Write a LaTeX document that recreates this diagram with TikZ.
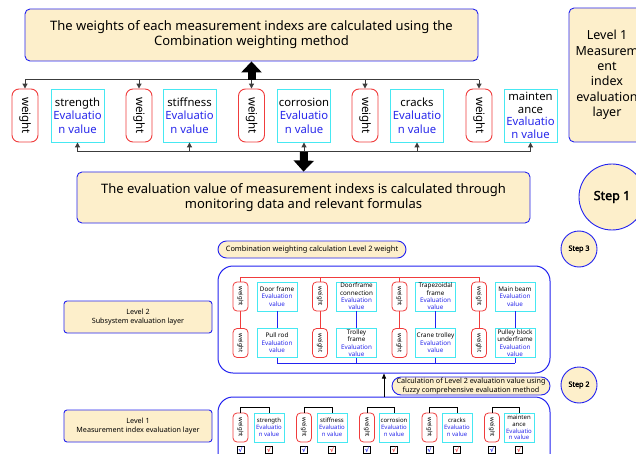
\documentclass[tikz,border=0pt]{standalone}
\usepackage{fontspec}
\setmainfont{Noto Sans}[AutoFakeBold=2.2]
\newfontfamily\djv{DejaVu Sans}
\usetikzlibrary{arrows.meta}
\definecolor{fillc}{RGB}{253,239,203}
\definecolor{bordb}{RGB}{35,35,240}
\definecolor{redc}{RGB}{240,60,60}
\definecolor{cyanc}{RGB}{70,232,242}
\definecolor{bluet}{RGB}{40,40,235}
\definecolor{linec}{RGB}{60,60,60}
\newcommand\bt[1]{\textcolor{bluet}{#1}}
\newcommand\fs[2]{\fontsize{#1}{#2}\selectfont}
\begin{document}
\begin{tikzpicture}[x=1pt,y=-1pt,
  yel/.style={draw=bordb, fill=fillc, line width=0.9pt, rounded corners=5pt, inner sep=0pt, align=center},
  circ/.style={circle, draw=bordb, fill=fillc, line width=0.9pt, inner sep=0pt},
  bigbox/.style={draw=bordb, line width=1pt, rounded corners=15pt, inner sep=0pt},
  wA/.style={draw=redc, line width=0.9pt, rounded corners=7pt, minimum width=26pt, minimum height=53pt, inner sep=0pt, font=\fs{11.5}{13}},
  eA/.style={draw=cyanc, line width=0.9pt, minimum width=53pt, minimum height=53pt, inner sep=0pt, align=center, font=\fs{11.3}{13.4}},
  wB/.style={draw=redc, line width=0.8pt, rounded corners=4pt, minimum width=15pt, minimum height=29pt, inner sep=0pt, font=\fs{6}{7}},
  eB/.style={draw=cyanc, line width=0.8pt, minimum width=40pt, minimum height=29pt, inner sep=0pt, align=center, font=\fs{6.3}{7.4}},
  eC/.style={draw=cyanc, line width=0.8pt, minimum width=30pt, minimum height=29pt, inner sep=0pt, align=center, font=\fs{6}{7.2}},
  chk/.style={draw=black, line width=0.6pt, minimum size=7pt, inner sep=0pt, font=\djv\bfseries\fs{6.5}{6.5}},
  conn/.style={draw=linec, line width=1pt},
  carr/.style={conn, -{Triangle[length=5pt,width=5pt]}},
  bigarr/.style={draw=black, line width=8pt, -{Triangle[length=11pt,width=20pt]}},
  redl/.style={draw=redc, line width=0.9pt},
  bluel/.style={draw=bordb, line width=0.9pt},
  blkl/.style={draw=black, line width=0.8pt}
]
\useasboundingbox (0,0) rectangle (636,454);
\clip (0,0) rectangle (636,454);
\fill[white] (0,0) rectangle (636,454);

% ---------- upper part ----------
\node[yel, minimum width=453pt, minimum height=52pt, font=\fs{13}{15}] (top) at (251.5,35)
  {The weights of each measurement indexs are calculated using the\\Combination weighting method};
\node[yel, minimum width=453pt, minimum height=51pt, font=\fs{13}{15}] (bot) at (303.5,197.5)
  {The evaluation value of measurement indexs is calculated through\\monitoring data and relevant formulas};
\node[yel, minimum width=76pt, minimum height=134pt, font=\fs{12.5}{15.4}] (lvl1r) at (607,75)
  {Level 1\\Measurem\\ent\\index\\evaluation\\layer};
\node[circ, minimum size=66pt, font=\bfseries\fs{12.5}{14}] (s1) at (612,197) {Step 1};

\node[wA] (w1) at (25,115.5) {\rotatebox{-90}{weight}};
\node[wA] (w2) at (139,115.5) {\rotatebox{-90}{weight}};
\node[wA] (w3) at (251.5,115.5) {\rotatebox{-90}{weight}};
\node[wA] (w4) at (365,115.5) {\rotatebox{-90}{weight}};
\node[wA] (w5) at (479,115.5) {\rotatebox{-90}{weight}};
\node[eA] (e1) at (77.5,115.5) {strength\\\bt{Evaluatio}\\\bt{n value}};
\node[eA] (e2) at (189.5,115.5) {stiffness\\\bt{Evaluatio}\\\bt{n value}};
\node[eA] (e3) at (304,115.5) {corrosion\\\bt{Evaluatio}\\\bt{n value}};
\node[eA] (e4) at (417,115.5) {cracks\\\bt{Evaluatio}\\\bt{n value}};
\node[eA, font=\fs{11.3}{12.7}] (e5) at (530.5,115.5) {mainten\\ance\\\bt{Evaluatio}\\\bt{n value}};

\coordinate (hl) at (25,80);
\coordinate (hr) at (479,80);
\draw[conn] (hl) -- (hr);
\foreach \w in {w1,w2,w3,w4,w5} \draw[carr] (\w.north |- hl) -- (\w.north);
\draw[bigarr] (w3.north |- hl) -- (top.south);

\coordinate (bl) at (77.5,152);
\coordinate (br) at (530.5,152);
\draw[conn] (bl) -- (br);
\foreach \e in {e1,e2,e3,e4,e5} \draw[carr] (\e.south |- bl) -- (\e.south);
\draw[bigarr] (e3.south |- bl) -- (bot.north);

% ---------- lower part ----------
\node[yel, rounded corners=8.5pt, minimum width=188pt, minimum height=17pt, font=\fs{7.4}{8}] (p3) at (312,249.5)
  {Combination weighting calculation Level 2 weight};
\node[circ, minimum size=36pt, font=\bfseries\fs{7.2}{8}] (s3) at (579,249) {Step 3};
\node[yel, rounded corners=3pt, minimum width=148pt, minimum height=32pt, font=\fs{7.2}{9.5}] (l2) at (138,317)
  {Level 2\\Subsystem evaluation layer};
\node[bigbox, minimum width=332pt, minimum height=107pt] (bb2) at (384,319.5) {};

\foreach \i/\x in {1/240.5,2/320,3/399.5,4/479} {
  \node[wB] (ta\i) at (\x,296.5) {\rotatebox{-90}{weight}};
  \node[wB] (tb\i) at (\x,343) {\rotatebox{-90}{weight}};
}
\node[eB] (ca1) at (277,296.5) {Door frame\\\bt{Evaluation}\\\bt{value}};
\node[eB] (ca2) at (356.5,296.5) {Doorframe\\connection\\\bt{Evaluation}\\\bt{value}};
\node[eB] (ca3) at (435.5,296.5) {Trapezoidal\\frame\\\bt{Evaluation}\\\bt{value}};
\node[eB] (ca4) at (515,296.5) {Main beam\\\bt{Evaluation}\\\bt{value}};
\node[eB] (cb1) at (277,343) {Pull rod\\\bt{Evaluation}\\\bt{value}};
\node[eB] (cb2) at (356.5,343) {Trolley\\frame\\\bt{Evaluation}\\\bt{value}};
\node[eB] (cb3) at (435.5,343) {Crane trolley\\\bt{Evaluation}\\\bt{value}};
\node[eB] (cb4) at (515,343) {Pulley block\\underframe\\\bt{Evaluation}\\\bt{value}};

\coordinate (rl) at (240.5,277);
\coordinate (rr) at (479,277);
\draw[redl] (rl) -- (rr);
\coordinate (ul) at (277,363);
\coordinate (ur) at (515,363);
\draw[bluel] (ul) -- (ur);
\foreach \i in {1,2,3,4} {
  \draw[redl] (ta\i.north |- rl) -- (ta\i.north);
  \draw[redl] (ta\i.south) -- (tb\i.north);
  \draw[bluel] (ca\i.south) -- (cb\i.north);
  \draw[bluel] (cb\i.south) -- (cb\i.south |- ul);
}

\node[yel, rounded corners=9pt, minimum width=158pt, minimum height=18pt, font=\fs{7.2}{8.5}] (p2) at (471,386)
  {Calculation of Level 2 evaluation value using\\fuzzy comprehensive evaluation method};
\node[circ, minimum size=36pt, font=\bfseries\fs{7.2}{8}] (s2) at (579,385) {Step 2};
\node[yel, rounded corners=3pt, minimum width=148pt, minimum height=32pt, font=\fs{7.2}{9.5}] (l1) at (138,426)
  {Level 1\\Measurement index evaluation layer};
\node[bigbox, minimum width=332pt, minimum height=80pt] (bb1) at (384,437) {};
\coordinate (ab) at (384,397);
\draw[blkl, -{Triangle[length=5pt,width=4pt]}] (ab) -- (ab |- bb2.south);

\foreach \i/\x/\c/\t in {1/240.5/269/strength, 2/304/332/stiffness, 3/367/394/corrosion, 4/429.5/457/cracks} {
  \node[wB] (lw\i) at (\x,427.5) {\rotatebox{-90}{weight}};
  \node[eC] (le\i) at (\c,427.5) {\t\\\bt{Evaluatio}\\\bt{n value}};
}
\node[wB] (lw5) at (492,427.5) {\rotatebox{-90}{weight}};
\node[eC, font=\fs{6}{6.8}] (le5) at (519,427.5) {mainten\\ance\\\bt{Evaluatio}\\\bt{n value}};
\foreach \i in {1,2,3,4,5} {
  \coordinate (k\i) at ([yshift=5pt]lw\i.north);
  \draw[blkl] (lw\i.north) -- (k\i) -- (k\i -| le\i.north) -- (le\i.north);
  \node[chk] (cw\i) at ([yshift=-7pt]lw\i.south) {\textcolor{bluet}{√}};
  \node[chk] (ce\i) at ([yshift=-7pt]le\i.south) {\textcolor{redc}{√}};
}
\end{tikzpicture}
\end{document}
